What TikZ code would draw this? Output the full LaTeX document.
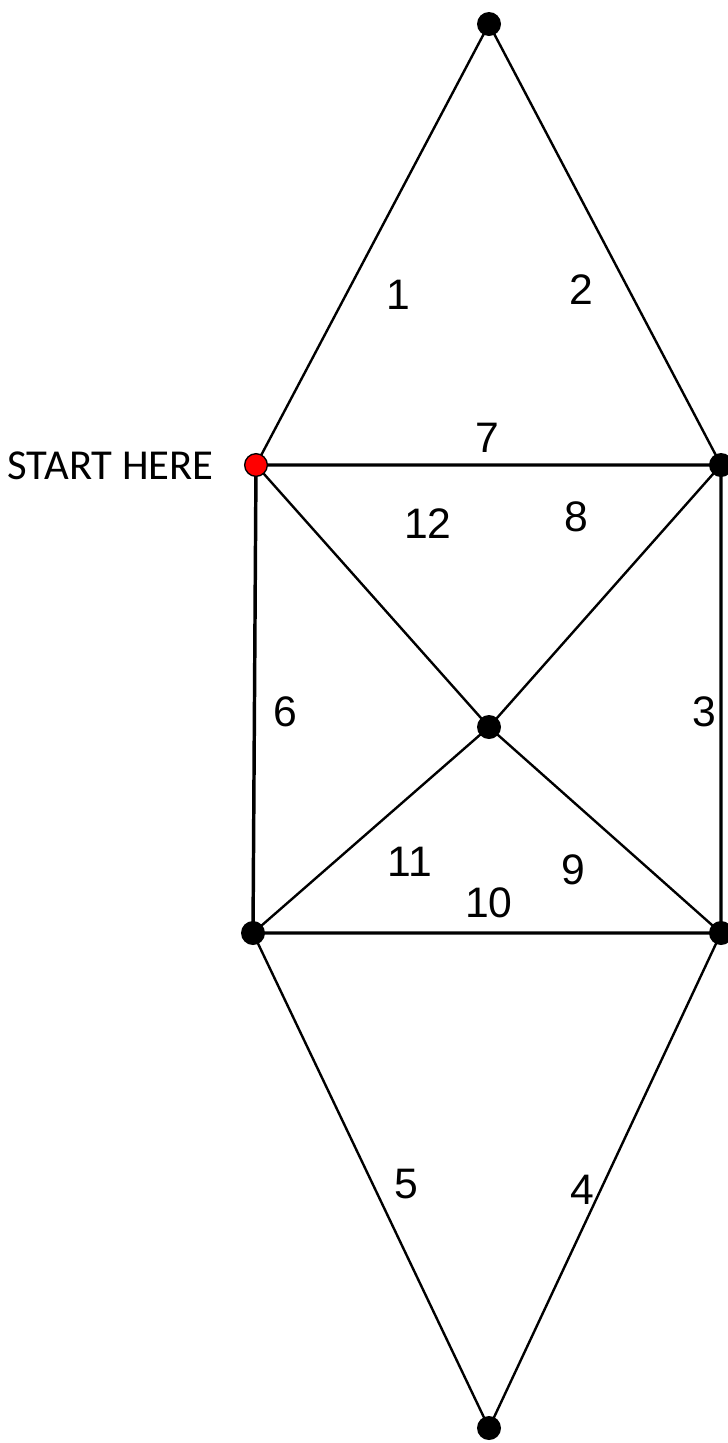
\documentclass[tikz,border=0pt]{standalone}
\usepackage{fontspec}
\setmainfont{Liberation Sans}
\newfontfamily\calib{Carlito}
\begin{document}
\begin{tikzpicture}[x=0.75pt,y=-0.75pt,
  vtx/.style={circle,fill=black,inner sep=0pt,minimum size=18pt},
  svtx/.style={circle,fill=red,draw=black,line width=1pt,inner sep=0pt,minimum size=17pt},
  thick edge/.style={line width=2.6pt},
  thin edge/.style={line width=1.8pt},
  lbl/.style={font=\fontsize{32}{32}\selectfont,inner sep=0pt}]
\useasboundingbox (0,0) rectangle (728,1443);
\coordinate (T) at (489,24);
\coordinate (A) at (256,465);
\coordinate (B) at (721,465);
\coordinate (C) at (489,727);
\coordinate (D) at (253,933);
\coordinate (E) at (721,933);
\coordinate (F) at (489,1428);
\draw[thin edge] (A) -- (T) -- (B);
\draw[thin edge] (D) -- (F) -- (E);
\draw[thin edge] (A) -- (C) -- (E);
\draw[thin edge] (B) -- (C) -- (D);
\draw[thick edge] (A) -- (B) -- (E) -- (D) -- cycle;
\node[vtx] (nT) at (T) {};
\node[vtx] (nB) at (B) {};
\node[vtx] (nC) at (C) {};
\node[vtx] (nD) at (D) {};
\node[vtx] (nE) at (E) {};
\node[vtx] (nF) at (F) {};
\node[svtx] (nA) at (A) {};
\node[anchor=east,inner sep=0pt,font=\calib\fontsize{32}{32}\selectfont] (start) at (214,466) {START HERE};
\node[lbl] (l1) at (398,295) {1};
\node[lbl] (l2) at (581,290) {2};
\node[lbl] (l7) at (487,438) {7};
\node[lbl] (l12) at (428,524) {12};
\node[lbl] (l8) at (576,517) {8};
\node[lbl] (l6) at (285,712) {6};
\node[lbl] (l3) at (704,712) {3};
\node[lbl] (l11) at (410,862) {11};
\node[lbl] (l9) at (573,870) {9};
\node[lbl] (l10) at (489,903) {10};
\node[lbl] (l5) at (406,1184) {5};
\node[lbl] (l4) at (582,1190) {4};
\end{tikzpicture}
\end{document}
